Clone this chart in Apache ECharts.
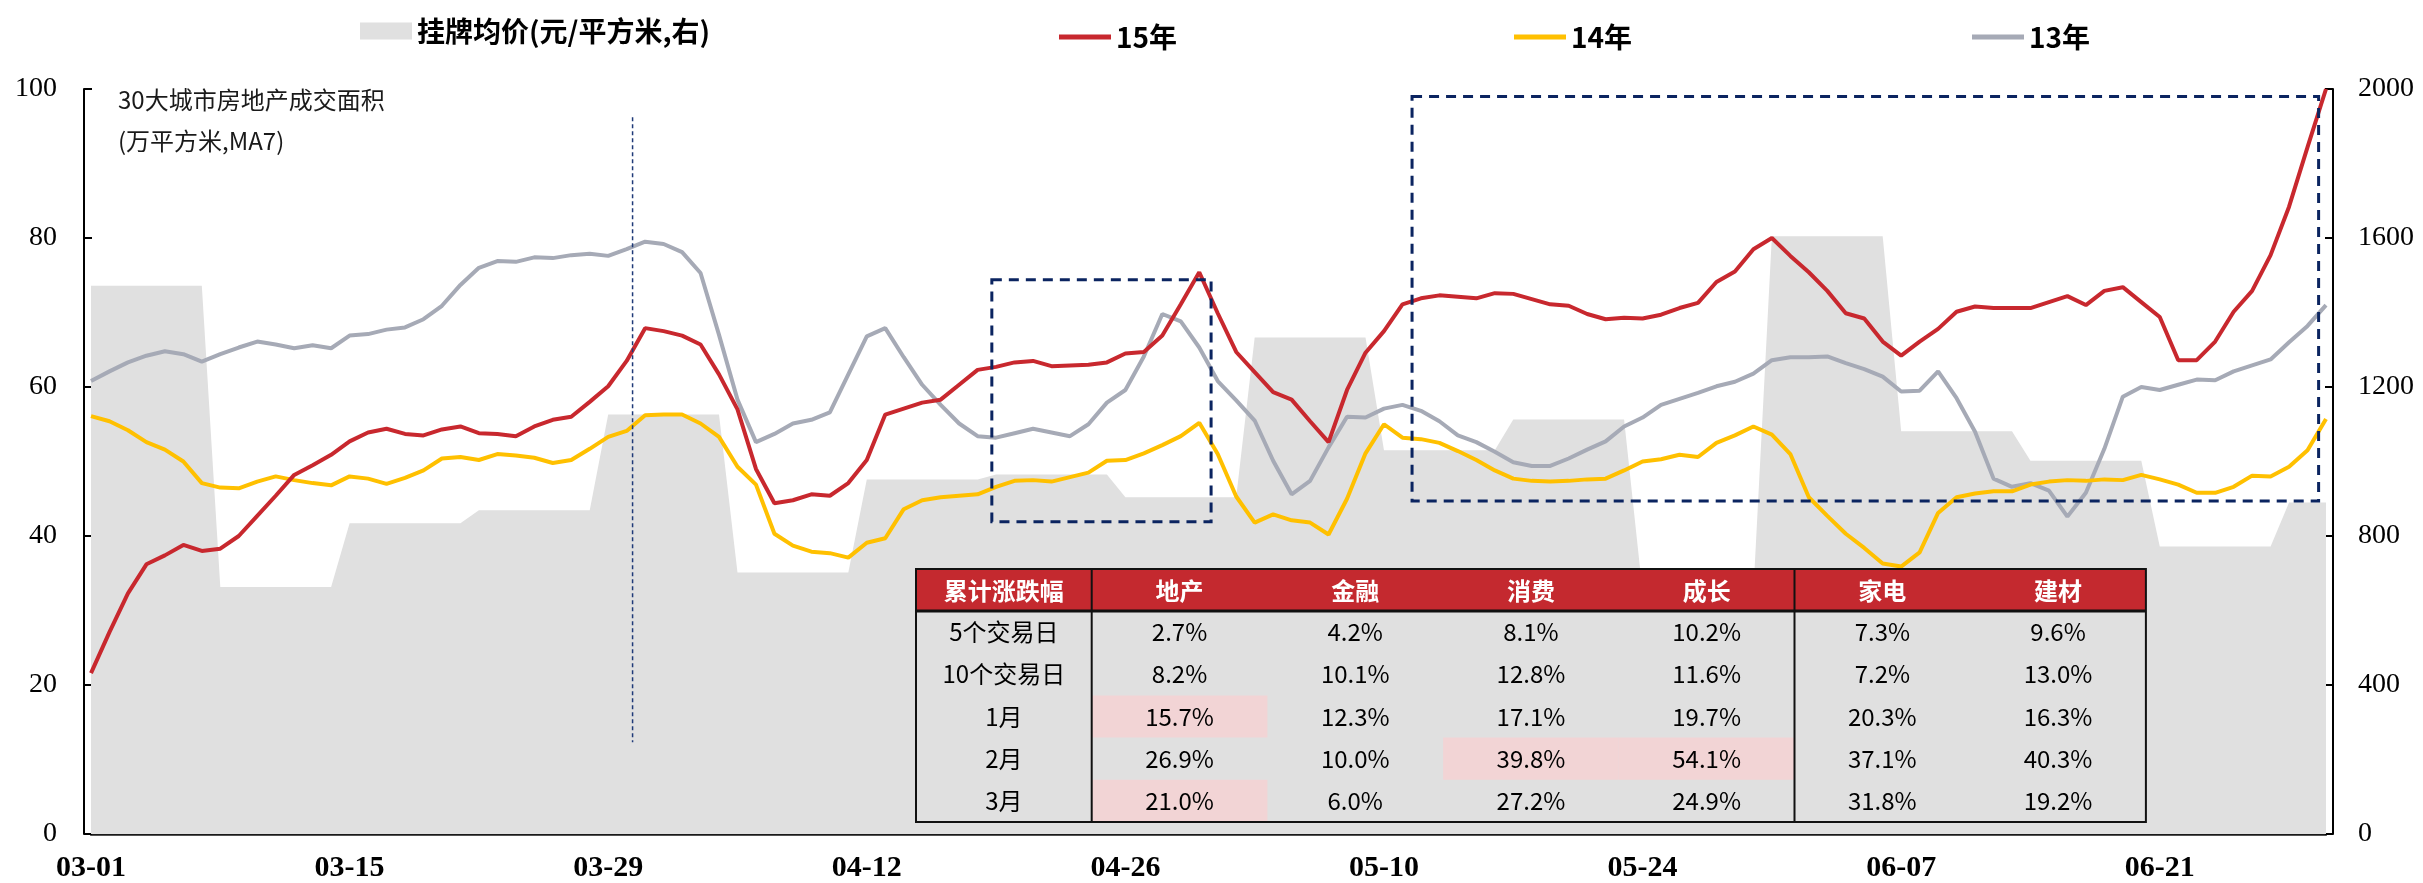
<!DOCTYPE html>
<html>
<head>
<meta charset="utf-8">
<script src="https://cdn.jsdelivr.net/npm/echarts@6.0.0/dist/echarts.min.js"></script>
<style>
  html, body { margin: 0; padding: 0; background: #fff; }
  #main { width: 2423px; height: 883px; }
</style>
</head>
<body>
<div id="main"></div>
<script>
// 日期 03-01 ~ 06-30
const dates = [
  '03-01','03-02','03-03','03-04','03-05','03-06','03-07','03-08','03-09','03-10','03-11','03-12','03-13','03-14','03-15','03-16',
  '03-17','03-18','03-19','03-20','03-21','03-22','03-23','03-24','03-25','03-26','03-27','03-28','03-29','03-30','03-31',
  '04-01','04-02','04-03','04-04','04-05','04-06','04-07','04-08','04-09','04-10','04-11','04-12','04-13','04-14','04-15',
  '04-16','04-17','04-18','04-19','04-20','04-21','04-22','04-23','04-24','04-25','04-26','04-27','04-28','04-29','04-30',
  '05-01','05-02','05-03','05-04','05-05','05-06','05-07','05-08','05-09','05-10','05-11','05-12','05-13','05-14','05-15','05-16',
  '05-17','05-18','05-19','05-20','05-21','05-22','05-23','05-24','05-25','05-26','05-27','05-28','05-29','05-30','05-31',
  '06-01','06-02','06-03','06-04','06-05','06-06','06-07','06-08','06-09','06-10','06-11','06-12','06-13','06-14','06-15',
  '06-16','06-17','06-18','06-19','06-20','06-21','06-22','06-23','06-24','06-25','06-26','06-27','06-28','06-29','06-30'
]

// 挂牌均价(元/平方米,右轴)
const listPrice = [
  1472, 1472, 1472, 1472, 1472, 1472, 1472,
  663, 663, 663, 663, 663, 663, 663,
  834, 834, 834, 834, 834, 834, 834,
  869, 869, 869, 869, 869, 869, 869,
  1126, 1126, 1126, 1126, 1126, 1126, 1126,
  702, 702, 702, 702, 702, 702, 702,
  952, 952, 952, 952, 952, 952, 952,
  965, 965, 965, 965, 965, 965, 965,
  904, 904, 904, 904, 904, 904, 904,
  1333, 1333, 1333, 1333, 1333, 1333, 1333,
  1030, 1030, 1030, 1030, 1030, 1030, 1030,
  1113, 1113, 1113, 1113, 1113, 1113, 1113,
  650, 650, 650, 650, 650, 650, 650,
  1605, 1605, 1605, 1605, 1605, 1605, 1605,
  1081, 1081, 1081, 1081, 1081, 1081, 1081,
  1002, 1002, 1002, 1002, 1002, 1002, 1002,
  772, 772, 772, 772, 772, 772, 772,
  890, 890, 890
]

// 30大城市成交面积 MA7
const area15 = [
  21.6, 27.1, 32.3, 36.2, 37.4, 38.8, 38.0, 38.3, 40.0, 42.7, 45.4, 48.2, 49.5, 50.9,
  52.7, 53.9, 54.4, 53.7, 53.5, 54.3, 54.7, 53.8, 53.7, 53.4, 54.7, 55.6, 56.0, 58.0,
  60.1, 63.5, 67.9, 67.5, 66.9, 65.7, 61.7, 57.0, 49.0, 44.4, 44.8, 45.6, 45.4, 47.1,
  50.2, 56.3, 57.1, 57.9, 58.3, 60.3, 62.3, 62.7, 63.3, 63.5, 62.8, 62.9, 63.0, 63.3,
  64.5, 64.7, 66.9, 71.1, 75.4, 69.9, 64.7, 62.0, 59.3, 58.3, 55.4, 52.6, 59.6, 64.6,
  67.5, 71.1, 71.9, 72.3, 72.1, 71.9, 72.6, 72.5, 71.8, 71.1, 70.9, 69.8, 69.1, 69.3,
  69.2, 69.7, 70.6, 71.3, 74.1, 75.5, 78.5, 80.0, 77.6, 75.4, 72.9, 69.9, 69.2, 66.1,
  64.2, 66.1, 67.8, 70.1, 70.8, 70.6, 70.6, 70.6, 71.4, 72.2, 71.0, 72.9, 73.4, 71.4,
  69.4, 63.6, 63.6, 66.1, 70.1, 72.9, 77.7, 84.2, 92.2, 100.0
]
const area14 = [
  56.1, 55.4, 54.2, 52.6, 51.6, 50.0, 47.1, 46.5, 46.4, 47.3, 48.0, 47.5, 47.1, 46.8,
  48.0, 47.7, 47.0, 47.8, 48.8, 50.4, 50.6, 50.2, 51.0, 50.8, 50.5, 49.8, 50.2, 51.7,
  53.3, 54.1, 56.2, 56.3, 56.3, 55.1, 53.3, 49.3, 46.9, 40.3, 38.7, 37.9, 37.7, 37.1,
  39.1, 39.7, 43.6, 44.8, 45.2, 45.4, 45.6, 46.6, 47.4, 47.5, 47.3, 47.9, 48.5, 50.1,
  50.2, 51.1, 52.2, 53.4, 55.2, 51.0, 45.3, 41.8, 42.9, 42.1, 41.8, 40.2, 45.0, 51.1,
  55.0, 53.2, 53.0, 52.5, 51.4, 50.2, 48.8, 47.7, 47.4, 47.3, 47.4, 47.6, 47.7, 48.8,
  50.0, 50.3, 50.9, 50.6, 52.5, 53.5, 54.7, 53.6, 51.0, 45.2, 42.7, 40.3, 38.4, 36.3,
  35.9, 37.8, 43.1, 45.2, 45.7, 46.0, 46.0, 46.9, 47.3, 47.5, 47.4, 47.6, 47.5, 48.2,
  47.6, 46.9, 45.8, 45.8, 46.6, 48.1, 48.0, 49.3, 51.5, 55.7
]
const area13 = [
  60.8, 62.1, 63.3, 64.2, 64.8, 64.4, 63.4, 64.4, 65.3, 66.1, 65.7, 65.2, 65.6, 65.2,
  66.9, 67.1, 67.7, 68.0, 69.1, 70.9, 73.7, 76.0, 76.9, 76.8, 77.4, 77.3, 77.7, 77.9,
  77.6, 78.5, 79.5, 79.2, 78.1, 75.3, 67.0, 58.3, 52.6, 53.7, 55.1, 55.6, 56.6, 61.7,
  66.8, 67.9, 64.0, 60.3, 57.6, 55.1, 53.4, 53.2, 53.8, 54.4, 53.9, 53.4, 55.0, 57.9,
  59.6, 64.1, 69.8, 68.8, 65.3, 60.8, 58.2, 55.5, 50.1, 45.6, 47.4, 51.9, 56.0, 55.9,
  57.1, 57.6, 56.8, 55.4, 53.5, 52.6, 51.3, 49.9, 49.4, 49.4, 50.4, 51.6, 52.7, 54.7,
  55.9, 57.6, 58.4, 59.2, 60.1, 60.7, 61.8, 63.6, 64.0, 64.0, 64.1, 63.2, 62.4, 61.4,
  59.4, 59.5, 62.1, 58.5, 54.0, 47.7, 46.6, 47.1, 46.1, 42.6, 45.8, 51.7, 58.7, 60.0,
  59.6, 60.3, 61.0, 60.9, 62.1, 62.9, 63.7, 66.0, 68.2, 71.0
]

// 表格：累计涨跌幅
const tableHead = ['累计涨跌幅', '地产', '金融', '消费', '成长', '家电', '建材']
const tableRows = ['5个交易日', '10个交易日', '1月', '2月', '3月']
const tableValues = [
  ['2.7%', '4.2%', '8.1%', '10.2%', '7.3%', '9.6%'],
  ['8.2%', '10.1%', '12.8%', '11.6%', '7.2%', '13.0%'],
  ['15.7%', '12.3%', '17.1%', '19.7%', '20.3%', '16.3%'],
  ['26.9%', '10.0%', '39.8%', '54.1%', '37.1%', '40.3%'],
  ['21.0%', '6.0%', '27.2%', '24.9%', '31.8%', '19.2%']
]
const tableMarks = [[2, 0], [3, 2], [3, 3], [4, 0]] // [行, 数值列] 粉色底

// 虚线框标注 [起始序号, 结束序号, 上沿值, 下沿值]
const boxes = [[48.77, 60.64, 74.4, 41.9], [71.52, 120.6, 99.0, 44.7]]
const markDay = [29.32, 96.2, 12.3]

const CN = '"Noto Sans CJK SC", sans-serif'
const chart = echarts.init(document.getElementById('main'))

const legendBase = {
  top: 12,
  itemWidth: 52,
  itemHeight: 17,
  selectedMode: false,
  textStyle: { fontSize: 28, fontWeight: 'bold', color: '#000', fontFamily: CN }
}
// 折线图例：细长方块，不画圆点
const lineLegend = (name, left) => Object.assign({}, legendBase, {
  left,
  top: 18,
  itemHeight: 5,
  data: [{ name, icon: 'rect' }]
})

const lineSeries = (name, data, color) => ({
  name,
  type: 'line',
  data,
  yAxisIndex: 0,
  symbol: 'none',
  smooth: false,
  z: 3,
  lineStyle: { color, width: 4 },
  itemStyle: { color }
})

const option = {
  animation: false,
  backgroundColor: '#fff',
  title: {
    text: '30大城市房地产成交面积\n(万平方米,MA7)',
    left: 113,
    top: 74,
    textStyle: { fontSize: 24, fontWeight: 'normal', color: '#1a1a1a', fontFamily: CN, lineHeight: 41 }
  },
  legend: [
    Object.assign({}, legendBase, { left: 355, data: [{ name: '挂牌均价(元/平方米,右)', icon: 'rect' }] }),
    lineLegend('15年', 1054),
    lineLegend('14年', 1509),
    lineLegend('13年', 1967)
  ],
  grid: { left: 91, right: 97, top: 89, bottom: 47 },
  xAxis: {
    type: 'category',
    data: dates,
    boundaryGap: false,
    axisLine: { lineStyle: { color: '#1a1a1a', width: 2.5 } },
    axisTick: { show: false },
    axisLabel: {
      interval: 13,
      margin: 19,
      color: '#000',
      fontSize: 30,
      fontWeight: 'bold',
      fontFamily: '"Liberation Serif", serif'
    },
    splitLine: { show: false }
  },
  yAxis: [
    {
      type: 'value',
      position: 'left',
      offset: 7,
      min: 0,
      max: 100,
      interval: 20,
      axisLine: { show: true, lineStyle: { color: '#000', width: 2 } },
      axisTick: { show: true, inside: true, length: 8, lineStyle: { color: '#000', width: 2 } },
      axisLabel: { margin: 27, color: '#000', fontSize: 28, fontFamily: '"Liberation Serif", serif' },
      splitLine: { show: false }
    },
    {
      type: 'value',
      position: 'right',
      offset: 7,
      min: 0,
      max: 2000,
      interval: 400,
      axisLine: { show: true, lineStyle: { color: '#000', width: 2 } },
      axisTick: { show: true, inside: true, length: 8, lineStyle: { color: '#000', width: 2 } },
      axisLabel: {
        margin: 25,
        color: '#000',
        fontSize: 28,
        fontFamily: '"Liberation Serif", serif',
        formatter: v => String(v)
      },
      splitLine: { show: false }
    }
  ],
  series: [
    {
      name: '挂牌均价(元/平方米,右)',
      type: 'line',
      data: listPrice,
      yAxisIndex: 1,
      symbol: 'none',
      z: 1,
      silent: true,
      lineStyle: { width: 0 },
      itemStyle: { color: '#E0E0E0' },
      areaStyle: { color: '#E0E0E0', opacity: 1 }
    },
    lineSeries('13年', area13, '#A6AAB6'),
    lineSeries('14年', area14, '#FFC000'),
    lineSeries('15年', area15, '#C8282E')
  ]
}
chart.setOption(option)

// 表格
const TB = { left: 916, top: 569, colW: 175.7, headH: 42, rowH: 42.2 }
function txt (s, x, y, font, fill) {
  return {
    type: 'text', silent: true, z: 20,
    style: { text: s, x, y, font, fill, align: 'center', verticalAlign: 'middle', textAlign: 'center', textVerticalAlign: 'middle' }
  }
}
function buildTable () {
  const els = []
  const w = TB.colW * tableHead.length
  const bodyH = TB.rowH * tableRows.length
  const cx = c => TB.left + TB.colW * (c + 0.5)
  const cy = r => TB.top + TB.headH + TB.rowH * (r + 0.5)
  els.push({ type: 'rect', silent: true, z: 15, shape: { x: TB.left, y: TB.top + TB.headH, width: w, height: bodyH }, style: { fill: '#E0E0E0' } })
  els.push({ type: 'rect', silent: true, z: 15, shape: { x: TB.left, y: TB.top, width: w, height: TB.headH }, style: { fill: '#C4292F' } })
  tableMarks.forEach(([r, c]) => {
    els.push({ type: 'rect', silent: true, z: 16, shape: { x: TB.left + TB.colW * (c + 1), y: TB.top + TB.headH + TB.rowH * r, width: TB.colW, height: TB.rowH }, style: { fill: '#F2D4D5' } })
  })
  tableHead.forEach((t, c) => els.push(txt(t, cx(c), TB.top + TB.headH / 2 + 1, 'bold 24px ' + CN, '#fff')))
  tableRows.forEach((t, r) => {
    els.push(txt(t, cx(0), cy(r), '24px ' + CN, '#000'))
    tableValues[r].forEach((v, c) => els.push(txt(v, cx(c + 1), cy(r), '24px ' + CN, '#000')))
  })
  els.push({ type: 'rect', silent: true, z: 18, shape: { x: TB.left, y: TB.top, width: w, height: TB.headH + bodyH }, style: { fill: 'none', stroke: '#111', lineWidth: 2 } })
  els.push({ type: 'line', silent: true, z: 18, shape: { x1: TB.left, y1: TB.top + TB.headH, x2: TB.left + w, y2: TB.top + TB.headH }, style: { stroke: '#111', lineWidth: 3 } })
  ;[1, 5].forEach(c => {
    const x = TB.left + TB.colW * c
    els.push({ type: 'line', silent: true, z: 18, shape: { x1: x, y1: TB.top, x2: x, y2: TB.top + TB.headH + bodyH }, style: { stroke: '#111', lineWidth: 2 } })
  })
  return els
}

// 数据坐标 -> 像素（序号可为小数）
function toPx (idx, val) {
  const i0 = Math.floor(idx)
  const a = chart.convertToPixel({ seriesIndex: 1 }, [i0, val])
  const b = chart.convertToPixel({ seriesIndex: 1 }, [i0 + 1, val])
  return [a[0] + (idx - i0) * (b[0] - a[0]), a[1]]
}
function buildMarks () {
  const els = []
  boxes.forEach(([i0, i1, top, bottom]) => {
    const p0 = toPx(i0, top)
    const p1 = toPx(i1, bottom)
    els.push({
      type: 'rect', silent: true, z: 12,
      shape: { x: p0[0], y: p0[1], width: p1[0] - p0[0], height: p1[1] - p0[1] },
      style: { fill: 'none', stroke: '#0B2460', lineWidth: 3, lineDash: [10, 7] }
    })
  })
  const q0 = toPx(markDay[0], markDay[1])
  const q1 = toPx(markDay[0], markDay[2])
  els.push({
    type: 'line', silent: true, z: 12,
    shape: { x1: q0[0], y1: q0[1], x2: q1[0], y2: q1[1] },
    style: { stroke: '#1F3A78', lineWidth: 1.5, lineDash: [4, 3] }
  })
  return els
}

chart.setOption({ graphic: { elements: buildMarks().concat(buildTable()) } })
</script>
</body>
</html>
